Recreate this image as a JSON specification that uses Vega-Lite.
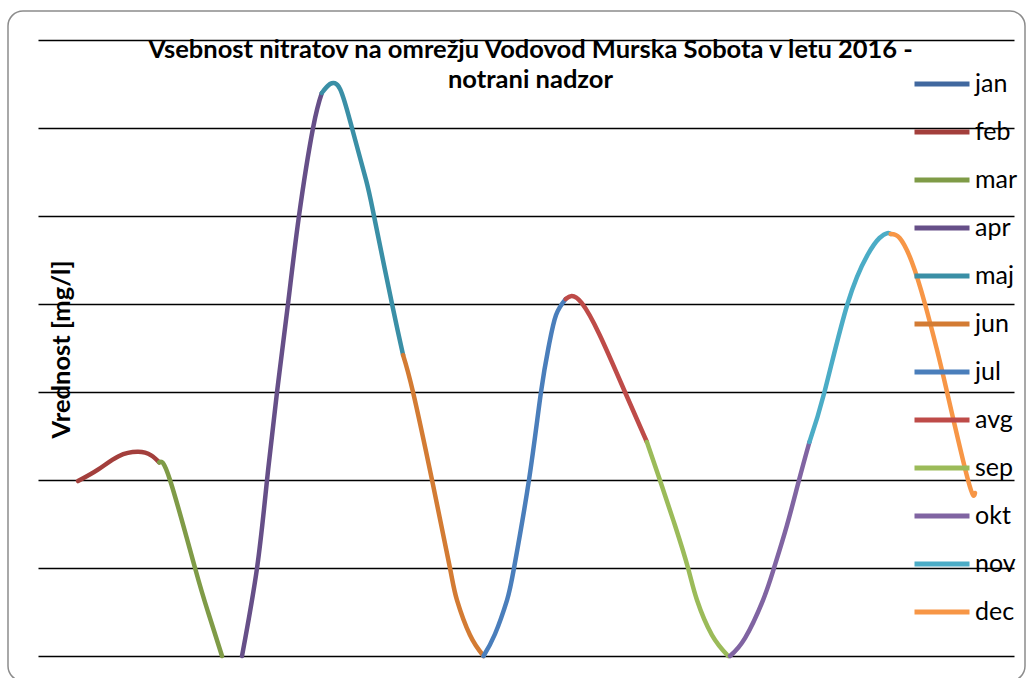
{
  "$schema": "https://vega.github.io/schema/vega-lite/v6.json",
  "autosize": {"type": "none"},
  "padding": {"left": 8, "top": 11, "right": 7, "bottom": -3},
  "width": 1017,
  "height": 670,
  "background": "white",
  "config": {
    "view": {"stroke": "#8c8c8c", "strokeWidth": 1.5, "cornerRadius": 15, "fill": "white"},
    "font": "Lato"
  },
  "title": {
    "text": ["Vsebnost nitratov na omrežju Vodovod Murska Sobota v letu 2016 -", "notrani nadzor"],
    "anchor": "middle",
    "frame": "group",
    "orient": "top",
    "offset": 0,
    "dy": 82,
    "dx": 14,
    "lineHeight": 30,
    "font": "Lato",
    "fontSize": 25.5,
    "fontWeight": "bold",
    "color": "#000000"
  },
  "data": {"values": [
    {"mesec": "feb", "t": 1.0, "v": 9.94},
    {"mesec": "feb", "t": 1.25, "v": 10.6},
    {"mesec": "feb", "t": 1.5, "v": 11.35},
    {"mesec": "feb", "t": 1.74, "v": 11.6},
    {"mesec": "feb", "t": 1.9, "v": 11.4},
    {"mesec": "feb", "t": 2.0, "v": 11.0},
    {"mesec": "mar", "t": 2.0, "v": 11.0},
    {"mesec": "mar", "t": 2.132, "v": 10.0},
    {"mesec": "mar", "t": 2.44, "v": 5.0},
    {"mesec": "mar", "t": 2.6, "v": 2.5},
    {"mesec": "mar", "t": 2.772, "v": 0},
    {"mesec": "apr", "t": 3.018, "v": 0},
    {"mesec": "apr", "t": 3.203, "v": 5.0},
    {"mesec": "apr", "t": 3.326, "v": 10.0},
    {"mesec": "apr", "t": 3.449, "v": 15.0},
    {"mesec": "apr", "t": 3.584, "v": 20.0},
    {"mesec": "apr", "t": 3.719, "v": 25.0},
    {"mesec": "apr", "t": 3.892, "v": 30.0},
    {"mesec": "apr", "t": 4.0, "v": 31.99},
    {"mesec": "maj", "t": 4.0, "v": 31.99},
    {"mesec": "maj", "t": 4.101, "v": 32.5},
    {"mesec": "maj", "t": 4.224, "v": 32.22},
    {"mesec": "maj", "t": 4.371, "v": 30.0},
    {"mesec": "maj", "t": 4.544, "v": 27.05},
    {"mesec": "maj", "t": 4.642, "v": 25.0},
    {"mesec": "maj", "t": 4.864, "v": 20.0},
    {"mesec": "maj", "t": 5.0, "v": 17.1},
    {"mesec": "jun", "t": 5.0, "v": 17.1},
    {"mesec": "jun", "t": 5.122, "v": 15.0},
    {"mesec": "jun", "t": 5.356, "v": 10.0},
    {"mesec": "jun", "t": 5.577, "v": 5.0},
    {"mesec": "jun", "t": 5.663, "v": 3.18},
    {"mesec": "jun", "t": 5.823, "v": 1.19},
    {"mesec": "jun", "t": 5.99, "v": 0},
    {"mesec": "jul", "t": 5.99, "v": 0},
    {"mesec": "jul", "t": 6.131, "v": 1.25},
    {"mesec": "jul", "t": 6.279, "v": 3.18},
    {"mesec": "jul", "t": 6.365, "v": 5.0},
    {"mesec": "jul", "t": 6.549, "v": 10.0},
    {"mesec": "jul", "t": 6.697, "v": 15.0},
    {"mesec": "jul", "t": 6.795, "v": 17.67},
    {"mesec": "jul", "t": 6.882, "v": 19.38},
    {"mesec": "jul", "t": 7.0, "v": 20.28},
    {"mesec": "avg", "t": 7.0, "v": 20.28},
    {"mesec": "avg", "t": 7.074, "v": 20.45},
    {"mesec": "avg", "t": 7.197, "v": 20.06},
    {"mesec": "avg", "t": 7.419, "v": 18.24},
    {"mesec": "avg", "t": 7.73, "v": 15.0},
    {"mesec": "avg", "t": 8.0, "v": 12.16},
    {"mesec": "sep", "t": 8.0, "v": 12.16},
    {"mesec": "sep", "t": 8.16, "v": 10.0},
    {"mesec": "sep", "t": 8.344, "v": 7.44},
    {"mesec": "sep", "t": 8.506, "v": 5.0},
    {"mesec": "sep", "t": 8.616, "v": 3.18},
    {"mesec": "sep", "t": 8.801, "v": 1.19},
    {"mesec": "sep", "t": 9.0, "v": 0},
    {"mesec": "okt", "t": 9.023, "v": 0},
    {"mesec": "okt", "t": 9.207, "v": 1.02},
    {"mesec": "okt", "t": 9.429, "v": 3.18},
    {"mesec": "okt", "t": 9.564, "v": 5.0},
    {"mesec": "okt", "t": 9.724, "v": 7.44},
    {"mesec": "okt", "t": 9.872, "v": 10.0},
    {"mesec": "okt", "t": 10.0, "v": 12.16},
    {"mesec": "nov", "t": 10.0, "v": 12.16},
    {"mesec": "nov", "t": 10.185, "v": 15.0},
    {"mesec": "nov", "t": 10.468, "v": 20.0},
    {"mesec": "nov", "t": 10.714, "v": 22.78},
    {"mesec": "nov", "t": 10.862, "v": 23.75},
    {"mesec": "nov", "t": 10.96, "v": 24.03},
    {"mesec": "nov", "t": 11.0, "v": 23.98},
    {"mesec": "dec", "t": 11.0, "v": 23.98},
    {"mesec": "dec", "t": 11.11, "v": 23.75},
    {"mesec": "dec", "t": 11.26, "v": 22.39},
    {"mesec": "dec", "t": 11.422, "v": 20.0},
    {"mesec": "dec", "t": 11.57, "v": 17.39},
    {"mesec": "dec", "t": 11.693, "v": 15.0},
    {"mesec": "dec", "t": 11.951, "v": 10.0},
    {"mesec": "dec", "t": 12.037, "v": 9.26}
  ]},
  "mark": {"type": "line", "interpolate": "natural", "strokeWidth": 4.5, "strokeCap": "round", "strokeJoin": "round"},
  "encoding": {
    "x": {"field": "t", "type": "quantitative", "axis": null, "scale": {"domain": [0.5078, 12.517], "range": [30, 1006], "nice": false, "zero": false}},
    "y": {
      "field": "v",
      "type": "quantitative",
      "scale": {"domain": [-1.42, 36.648], "nice": false, "zero": false},
      "axis": {
        "title": "Vrednost [mg/l]",
        "values": [0, 5, 10, 15, 20, 25, 30, 35],
        "labels": false,
        "ticks": false,
        "domain": false,
        "grid": true,
        "gridColor": "#000000",
        "gridWidth": 1.3,
        "gridOpacity": 1,
        "titleX": 53,
        "titleY": 338,
        "titleAngle": 270,
        "titleAlign": "center",
        "titleBaseline": "middle",
        "titleFont": "Lato",
        "titleFontSize": 25.5,
        "titleFontWeight": "bold",
        "titleColor": "#000000"
      }
    },
    "color": {
      "field": "mesec",
      "type": "nominal",
      "scale": {
        "domain": ["jan", "feb", "mar", "apr", "maj", "jun", "jul", "avg", "sep", "okt", "nov", "dec"],
        "range": ["#41689F", "#A33F3C", "#7F9B47", "#664F88", "#3A8FA6", "#D37B33", "#4A7EBB", "#BE4B48", "#9BBB59", "#8064A2", "#4BACC6", "#F79646"]
      },
      "legend": {
        "title": null,
        "orient": "none",
        "legendX": 904,
        "legendY": 49,
        "padding": 0,
        "symbolType": "stroke",
        "symbolSize": 3025,
        "symbolStrokeWidth": 5,
        "clipHeight": 48,
        "rowPadding": 0,
        "labelOffset": 3,
        "labelFont": "Lato",
        "labelFontSize": 25,
        "labelColor": "#000000",
        "labelLimit": 200
      }
    }
  }
}
